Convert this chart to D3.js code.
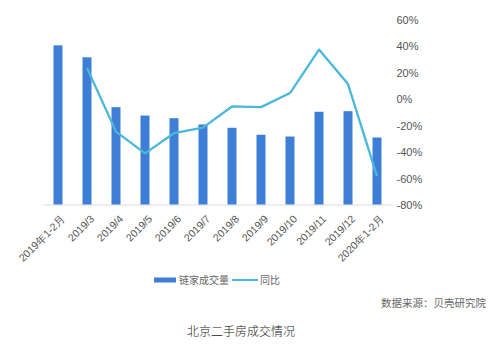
<!DOCTYPE html>
<html>
<head>
<meta charset="utf-8">
<script src="https://cdn.jsdelivr.net/npm/d3@7"></script>
<style>
  body { margin: 0; background: #fff; }
  svg { display: block; font-family: "Helvetica Neue", Arial, "Noto Sans CJK SC", sans-serif; }
</style>
</head>
<body>
<svg width="498" height="352"></svg>
<script>
// categories and values
const months = ["2019年1-2月", "2019/3", "2019/4", "2019/5", "2019/6", "2019/7",
                "2019/8", "2019/9", "2019/10", "2019/11", "2019/12", "2020年1-2月"];
// 链家成交量 (no left axis in the original, values estimated in sets)
const volume = [17300, 16000, 10580, 9670, 9380, 8700, 8340, 7580, 7390, 10080, 10140, 7280];
// 同比 (%), first month has no value
const yoy = [null, 23.6, -24.4, -40.8, -25.6, -21.4, -5.4, -5.9, 4.7, 37.5, 11.5, -58];
const pctTicks = [60, 40, 20, 0, -20, -40, -60, -80];

const svg = d3.select("svg"),
      margin = {top: 20, right: 107, bottom: 147, left: 43.5};
const width = +svg.attr("width"), height = +svg.attr("height");

const x = d3.scaleBand()
    .domain(months)
    .range([margin.left, margin.left + 29 * months.length])
    .paddingInner(0.69)
    .paddingOuter(0.345);

const yBar = d3.scaleLinear()
    .domain([0, 20000])
    .range([204.5, 204.5 - 184]);

const yPct = d3.scaleLinear()
    .domain([-80, 60])
    .range([205.3, 19.8]);

// baseline
svg.append("line")
    .attr("x1", x.range()[0]).attr("x2", x.range()[1])
    .attr("y1", yBar(0) + 0.5).attr("y2", yBar(0) + 0.5)
    .attr("stroke", "#dcdcdc");

// bars
svg.append("g").selectAll("rect")
    .data(volume)
    .join("rect")
    .attr("x", (d, i) => x(months[i]))
    .attr("y", d => yBar(d))
    .attr("width", x.bandwidth())
    .attr("height", d => yBar(0) - yBar(d))
    .attr("fill", "#3f7ed6");

// line
const line = d3.line()
    .defined(d => d != null)
    .x((d, i) => x(months[i]) + x.bandwidth() / 2)
    .y(d => yPct(d));

svg.append("path")
    .datum(yoy)
    .attr("fill", "none")
    .attr("stroke", "#4ab7dc")
    .attr("stroke-width", 2.3)
    .attr("stroke-linejoin", "round")
    .attr("d", line);

// right axis
const right = svg.append("g")
    .attr("transform", `translate(${x.range()[1] + 5},0)`)
    .call(d3.axisRight(yPct).tickValues(pctTicks).tickFormat(d => d + "%").tickSize(0).tickPadding(0));
right.select(".domain").remove();
right.selectAll("text")
    .attr("fill", "#555")
    .attr("font-size", 11);

// x labels
const bottom = svg.append("g")
    .attr("transform", `translate(0,${yBar(0)})`)
    .call(d3.axisBottom(x).tickSize(0).tickPadding(0));
bottom.select(".domain").remove();
bottom.selectAll("text")
    .attr("text-anchor", "end")
    .attr("dy", 0)
    .attr("fill", "#555")
    .attr("font-size", 10.5)
    .attr("transform", "translate(8,15) rotate(-45)");

// legend
const legend = svg.append("g").attr("font-size", 10).attr("fill", "#666");
legend.append("rect").attr("x", 154).attr("y", 277.5).attr("width", 22).attr("height", 5).attr("fill", "#3f7ed6");
legend.append("text").attr("x", 179).attr("y", 284).text("链家成交量");
legend.append("line").attr("x1", 232).attr("x2", 258).attr("y1", 280).attr("y2", 280)
    .attr("stroke", "#4ab7dc").attr("stroke-width", 2);
legend.append("text").attr("x", 260).attr("y", 284).text("同比");

// source
svg.append("text")
    .attr("x", 486).attr("y", 307)
    .attr("text-anchor", "end")
    .attr("font-size", 10.5)
    .attr("fill", "#666")
    .text("数据来源：贝壳研究院");

// caption
svg.append("text")
    .attr("x", 241).attr("y", 335.5)
    .attr("text-anchor", "middle")
    .attr("font-size", 12)
    .attr("font-weight", 300)
    .attr("fill", "#222")
    .text("北京二手房成交情况");
</script>
</body>
</html>
